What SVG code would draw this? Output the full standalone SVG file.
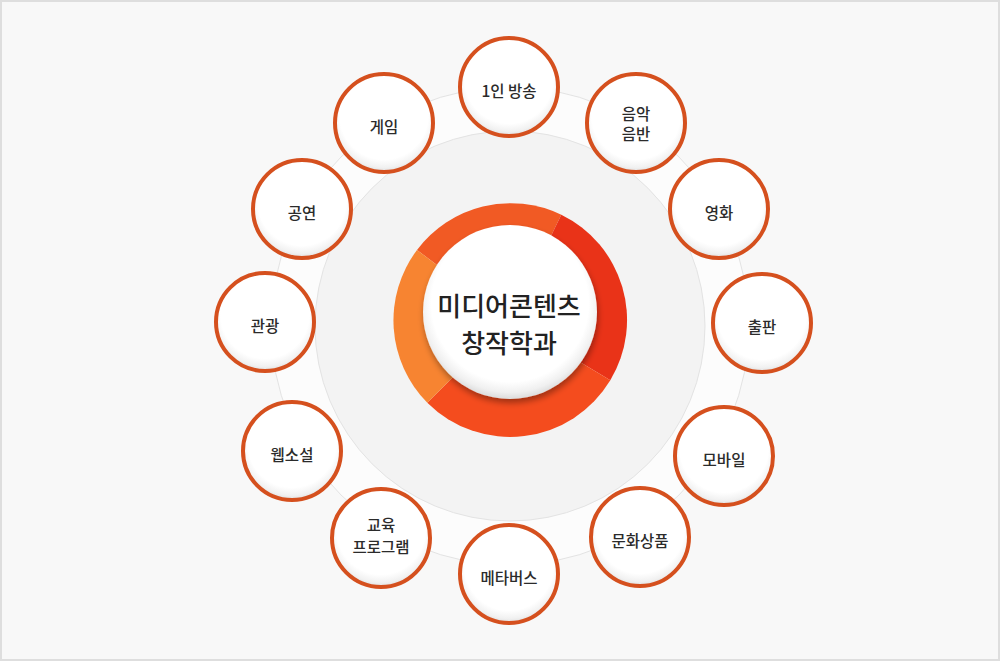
<svg xmlns="http://www.w3.org/2000/svg" width="1000" height="661" viewBox="0 0 1000 661">
<defs>
<radialGradient id="nodeFill" cx="50%" cy="42%" r="58%">
<stop offset="0%" stop-color="#ffffff"/>
<stop offset="78%" stop-color="#ffffff"/>
<stop offset="92%" stop-color="#f1f1f1"/>
<stop offset="100%" stop-color="#dedede"/>
</radialGradient>
<radialGradient id="centerFill" cx="50%" cy="45%" r="55%">
<stop offset="0%" stop-color="#ffffff"/>
<stop offset="82%" stop-color="#ffffff"/>
<stop offset="93%" stop-color="#f0f0f0"/>
<stop offset="100%" stop-color="#dcdcdc"/>
</radialGradient>
<filter id="sh" x="-20%" y="-20%" width="140%" height="150%">
<feGaussianBlur in="SourceAlpha" stdDeviation="3"/>
<feOffset dx="1" dy="4"/>
<feComponentTransfer><feFuncA type="linear" slope="0.35"/></feComponentTransfer>
<feMerge><feMergeNode/><feMergeNode in="SourceGraphic"/></feMerge>
</filter>
</defs>
<style>
.node circle{fill:url(#nodeFill);stroke:#d5501e;stroke-width:4}
.node text{font-family:"Noto Sans CJK KR","Noto Sans",sans-serif;font-size:15.5px;font-weight:500;fill:#2b2b2b;text-anchor:middle}
.ctext{font-family:"Noto Sans CJK KR","Noto Sans",sans-serif;font-size:26px;font-weight:500;fill:#222;text-anchor:middle}
</style>
<rect x="1" y="1" width="998" height="659" fill="#f8f8f8" stroke="#dedede" stroke-width="2"/>
<g id="rings">
<circle cx="510" cy="326" r="239" fill="#fcfcfc" stroke="#e3e3e3" stroke-width="1"/>
<circle cx="510" cy="326" r="195" fill="#f3f3f3" stroke="#e3e3e3" stroke-width="1"/>
</g>
<g id="center">
<path d="M 417.0 250.0 A 117 117 0 0 1 561.3 214.8 L 510 320 Z" fill="#f15a24"/>
<path d="M 561.3 214.8 A 117 117 0 0 1 610.3 380.3 L 510 320 Z" fill="#e93318"/>
<path d="M 610.3 380.3 A 117 117 0 0 1 427.3 402.7 L 510 320 Z" fill="#f44c1e"/>
<path d="M 427.3 402.7 A 117 117 0 0 1 417.0 250.0 L 510 320 Z" fill="#f78431"/>
<circle cx="510" cy="312" r="87" fill="url(#centerFill)" filter="url(#sh)"/>
<text class="ctext" x="509" y="316">미디어콘텐츠</text>
<text class="ctext" x="509" y="353">창작학과</text>
</g>
<g id="connectors"></g>
<g id="n1" class="node"><circle cx="509" cy="87" r="49"/><text x="509" y="97">1인 방송</text></g>
<g id="n2" class="node"><circle cx="636" cy="123" r="49"/><text x="636" y="120">음악</text><text x="636" y="140">음반</text></g>
<g id="n3" class="node"><circle cx="719" cy="209" r="49"/><text x="719" y="219">영화</text></g>
<g id="n4" class="node"><circle cx="762" cy="323" r="49"/><text x="762" y="333">출판</text></g>
<g id="n5" class="node"><circle cx="724" cy="456" r="49"/><text x="724" y="466">모바일</text></g>
<g id="n6" class="node"><circle cx="640" cy="537" r="49"/><text x="640" y="547">문화상품</text></g>
<g id="n7" class="node"><circle cx="509" cy="574" r="49"/><text x="509" y="584">메타버스</text></g>
<g id="n8" class="node"><circle cx="381" cy="538" r="49"/><text x="381" y="531">교육</text><text x="381" y="553">프로그램</text></g>
<g id="n9" class="node"><circle cx="292" cy="451" r="49"/><text x="292" y="461">웹소설</text></g>
<g id="n10" class="node"><circle cx="265" cy="322" r="49"/><text x="265" y="332">관광</text></g>
<g id="n11" class="node"><circle cx="302" cy="209" r="49"/><text x="302" y="219">공연</text></g>
<g id="n12" class="node"><circle cx="384" cy="123" r="49"/><text x="384" y="133">게임</text></g>
</svg>
